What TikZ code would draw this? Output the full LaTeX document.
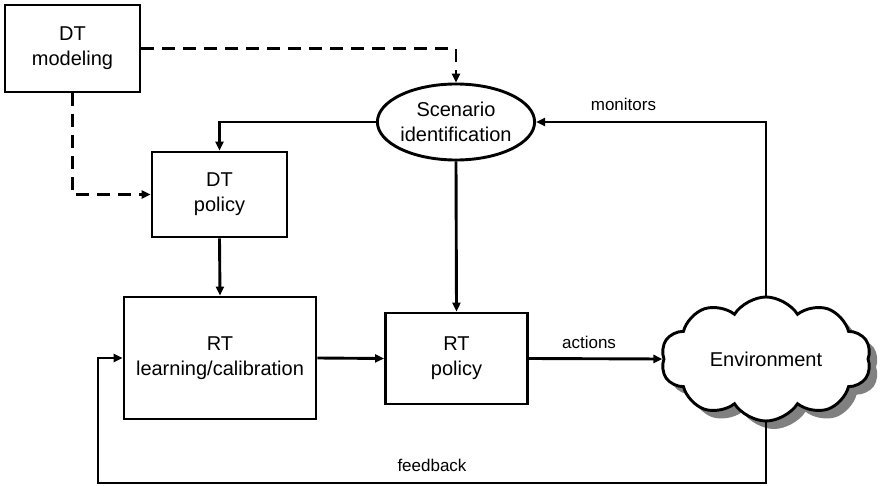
\documentclass[tikz,border=0pt]{standalone}
\usepackage{fontspec}
\setmainfont{Liberation Sans}
\usetikzlibrary{arrows.meta,shapes.geometric,shapes.symbols,shadows}
\begin{document}
\begin{tikzpicture}[x=1pt,y=-1pt,
  line width=2.9pt,
  boxtext/.style={font=\fontsize{20}{25}\selectfont, align=center},
  block/.style={boxtext, draw, rectangle, inner sep=0pt},
  conn/.style={-{Triangle[length=9pt,width=8pt]}, line width=2.9pt},
  dashconn/.style={conn, dash pattern=on 13pt off 8pt},
  lbl/.style={font=\fontsize{17}{20}\selectfont, inner sep=0pt}
]
\useasboundingbox (0,0) rectangle (883,486);

% blocks
\node[block, minimum width=135pt, minimum height=87pt] (dtm) at (72.5,48.5) {DT\\modeling};
\node[block, minimum width=135pt, minimum height=85pt] (dtp) at (219.5,194.5) {DT\\policy};
\node[block, minimum width=192pt, minimum height=122pt] (rtl) at (220,358) {RT\\learning/calibration};
\node[block, minimum width=142pt, minimum height=91pt] (rtp) at (456.5,358.5) {RT\\policy};
\node[boxtext, draw, ellipse, inner sep=0pt, minimum width=142pt, minimum height=76pt] (scen) at (456,122) {Scenario\\identification};
\node[boxtext, draw, cloud, cloud puffs=10, cloud puff arc=115, aspect=1.7,
      minimum width=210pt, minimum height=124pt, inner sep=0pt, fill=white,
      drop shadow={shadow xshift=8pt, shadow yshift=-8pt, fill=black!50, opacity=1}]
      (env) at (766,359) {Environment};

% corner of the feedback loop
\coordinate (fb) at (98,483);

% dashed modelling links
\draw[dashconn] (dtm.east) -| (scen.north);
\draw[dashconn] (dtm.south) |- (dtp.west);

% solid links
\draw[conn] (scen.west) -| (dtp.north);
\draw[conn] (dtp.south) -- (rtl.north);
\draw[conn] (scen.south) -- (rtp.north);
\draw[conn] (rtl.east) -- (rtp.west);
\draw[conn] (rtp.east) -- node[lbl, pos=0.45, above=9pt] {actions} (env.west);
\draw[conn] (env.north) |- node[lbl, pos=0.81, above=10pt] {monitors} (scen.east);
\draw[conn] (env.south) |- node[lbl, pos=0.75, above=10pt] {feedback} (fb) |- (rtl.west);
\end{tikzpicture}
\end{document}
